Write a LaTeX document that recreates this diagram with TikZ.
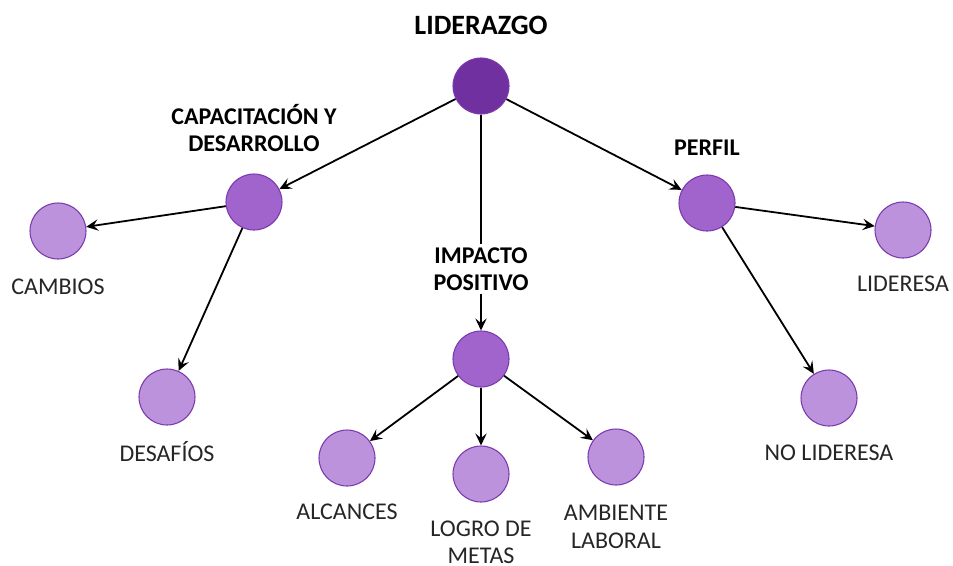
\documentclass[tikz,border=0pt]{standalone}
\usepackage{fontspec}
\setmainfont{Carlito}
\usetikzlibrary{arrows.meta}
\definecolor{topc}{HTML}{7030A0}
\definecolor{midc}{HTML}{A064CC}
\definecolor{leafc}{HTML}{BD92DD}
\definecolor{edgec}{HTML}{7A3AAE}
\tikzset{
  circ/.style={circle, draw=edgec, line width=0.8pt, minimum size=42pt, inner sep=0pt},
  topnode/.style={circ, fill=topc},
  midnode/.style={circ, fill=midc},
  leafnode/.style={circ, fill=leafc},
  head/.style={font=\fontsize{18}{20.5}\selectfont\bfseries, align=center, inner sep=2pt},
  lbl/.style={font=\fontsize{18}{20.5}\selectfont, align=center, inner sep=2pt, text=black!85},
  arr/.style={line width=1.35pt, -{Stealth[length=9pt, width=8.5pt, inset=3.5pt]}},
  ln/.style={line width=1.35pt}
}
\begin{document}
\begin{tikzpicture}[x=0.75pt, y=-0.75pt]
\useasboundingbox[fill=white] (0,0) rectangle (953,565);
% circles
\node[topnode]  (lid) at (481,86) {};
\node[midnode]  (cap) at (254,202) {};
\node[midnode]  (imp) at (481,359) {};
\node[midnode]  (per) at (707,203) {};
\node[leafnode] (cam) at (58,231) {};
\node[leafnode] (des) at (167,397) {};
\node[leafnode] (alc) at (347,458) {};
\node[leafnode] (log) at (481,474) {};
\node[leafnode] (amb) at (616,457) {};
\node[leafnode] (lsa) at (903,230) {};
\node[leafnode] (nol) at (829,398) {};
% labels
\node[head, font=\fontsize{21}{24}\selectfont\bfseries] (tLid) at (481,25) {LIDERAZGO};
\node[head] (tCap) at (254,128) {CAPACITACIÓN Y\\DESARROLLO};
\node[head] (tImp) at (481,269) {IMPACTO\\POSITIVO};
\node[head] (tPer) at (707,148) {PERFIL};
\node[lbl] (tCam) at (58,287) {CAMBIOS};
\node[lbl] (tDes) at (167,452) {DESAFÍOS};
\node[lbl] (tAlc) at (347,512) {ALCANCES};
\node[lbl] (tLog) at (481,542) {LOGRO DE\\METAS};
\node[lbl] (tAmb) at (616,527) {AMBIENTE\\LABORAL};
\node[lbl] (tLsa) at (903,284) {LIDERESA};
\node[lbl] (tNol) at (829,453) {NO LIDERESA};
% connectors
\draw[arr] (lid) -- (cap);
\draw[arr] (lid) -- (per);
\draw[ln] (lid) -- (tImp);
\draw[arr] (tImp) -- (imp);
\draw[arr] (cap) -- (cam);
\draw[arr] (cap) -- (des);
\draw[arr] (imp) -- (alc);
\draw[arr] (imp) -- (log);
\draw[arr] (imp) -- (amb);
\draw[arr] (per) -- (lsa);
\draw[arr] (per) -- (nol);
\end{tikzpicture}
\end{document}
